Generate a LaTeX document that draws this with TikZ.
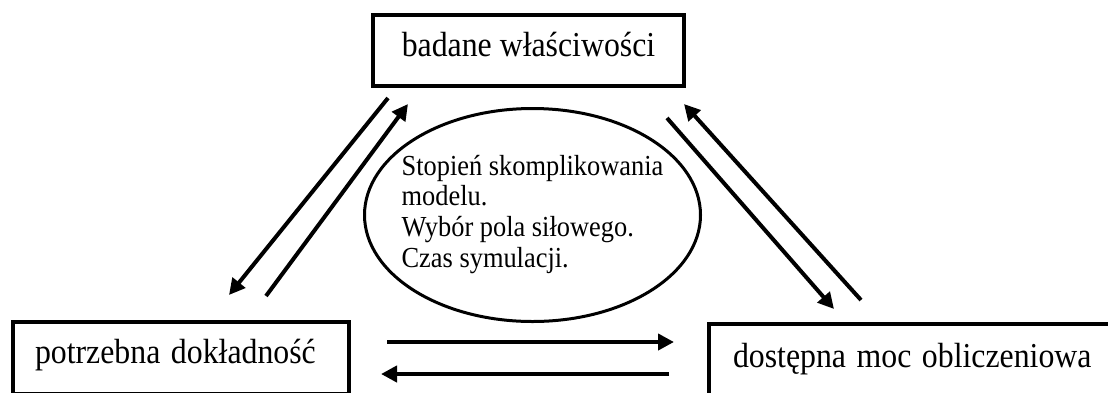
\documentclass[tikz,border=0pt]{standalone}
\usepackage{fontspec}
\usepackage{graphicx}
\setmainfont{Liberation Serif}
\usetikzlibrary{arrows.meta,shapes.geometric}
\newcommand{\vstretch}[1]{\scalebox{1}[1.1]{#1}}
\tikzset{
  box/.style={draw, line width=4pt, rectangle, inner ysep=0pt,
    font=\fontsize{31.8}{36}\selectfont},
  oval/.style={draw, line width=3pt, ellipse, inner xsep=-30pt, inner ysep=0pt,
    font=\fontsize{26.4}{27.9}\selectfont},
  conn/.style={line width=4pt, -{Triangle[length=16pt,width=16pt]}}
}
\begin{document}
\begin{tikzpicture}[x=1pt,y=-1pt]
\clip (0,0) rectangle (1108,392);
\node[box, minimum width=311pt, minimum height=71pt, inner xsep=0pt,
      text height=23pt, text depth=11pt] (bw) at (528.5,50.8) {\vstretch{badane właściwości}};
\node[box, minimum width=336pt, minimum height=72pt, text width=292pt, inner xsep=22pt,
      align=left, text height=22pt, text depth=12pt] (pd) at (181,358) {\vstretch{potrzebna dokładność}};
\node[box, minimum width=407pt, minimum height=72pt, text width=359pt, inner xsep=24pt,
      align=left, text height=23pt, text depth=9pt] (dm) at (912.5,360) {\vstretch{dostępna moc obliczeniowa}};
\node[oval, minimum width=336pt, minimum height=213pt] (el) at (532.5,215)
  {\vstretch{\begin{tabular}{@{}l@{}}Stopień skomplikowania\\modelu.\\Wybór pola siłowego.\\Czas symulacji.\end{tabular}}};
% connector end points
\coordinate (l1s) at (388,98);  \coordinate (l1e) at (229,295);
\coordinate (l2s) at (266,296); \coordinate (l2e) at (408,104);
\coordinate (r1s) at (667,118); \coordinate (r1e) at (834,309);
\coordinate (r2s) at (861,300); \coordinate (r2e) at (684,104);
\coordinate (b1s) at (387,342); \coordinate (b1e) at (674,342);
\coordinate (b2s) at (669,374); \coordinate (b2e) at (381,374);
\draw[conn] (l1s) -- (l1e);
\draw[conn] (l2s) -- (l2e);
\draw[conn] (r1s) -- (r1e);
\draw[conn] (r2s) -- (r2e);
\draw[conn] (b1s) -- (b1e);
\draw[conn] (b2s) -- (b2e);
\end{tikzpicture}
\end{document}
